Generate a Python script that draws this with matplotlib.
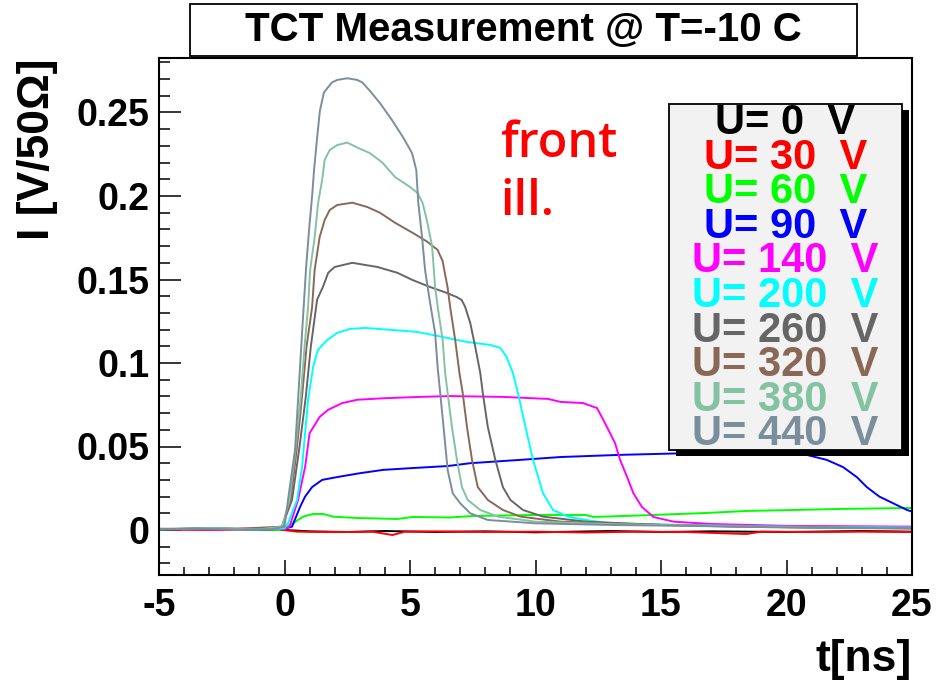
import matplotlib
matplotlib.use("Agg")
import matplotlib.pyplot as plt
from matplotlib.ticker import MultipleLocator, FixedLocator, FixedFormatter
from matplotlib.patches import Rectangle

plt.rcParams['font.family'] = ['Liberation Sans', 'DejaVu Sans']
plt.rcParams['axes.unicode_minus'] = False

# ---------------- data ----------------
labels = ["U= 0  V", "U= 30  V", "U= 60  V", "U= 90  V", "U= 140  V",
          "U= 200  V", "U= 260  V", "U= 320  V", "U= 380  V", "U= 440  V"]
colors = ["#000000", "#ff0000", "#00ff00", "#0000ff", "#ff00ff",
          "#00ffff", "#666666", "#8a6858", "#84c2a4", "#7a8e9b"]

t_0 = [-5, -2.5, 0.0, 1, 2.5, 4, 6, 8, 10, 13, 15, 17, 20, 23, 25]
i_0 = [0.0003, 0.0008, 0.0, -0.0008, -0.0012, -0.0006, -0.0012, -0.0008,
       -0.0014, -0.0006, -0.0012, -0.0008, -0.0012, -0.0006, -0.001]

t_30 = [-5, -3, -1, 0.0, 0.5, 1.5, 2.8, 3.5, 4.3, 4.8, 6, 8, 10, 12, 14,
        16, 18.4, 19, 21, 23, 25]
i_30 = [0.0003, 0.0, 0.0004, 0.0, -0.001, -0.0012, -0.0012, -0.001, -0.003,
        -0.001, -0.0008, -0.0012, -0.001, -0.0015, -0.001,
        -0.0012, -0.0024, -0.001, -0.0012, -0.001, -0.0012]

t_60 = [-5, -3, -1, -0.18, 0.34, 0.74, 1.14, 1.54, 1.93, 2.9, 4.5, 5.1, 6.6,
        7.5, 10, 12, 12.3, 14.7, 16.8, 18.4, 20.3, 22.1, 25]
i_60 = [0.0004, 0.0008, 0.0003, 0.0, 0.004, 0.008, 0.0096, 0.0096, 0.008,
        0.0072, 0.0066, 0.0078, 0.0075, 0.0084, 0.009, 0.009, 0.0078, 0.009,
        0.0102, 0.0114, 0.012, 0.0126, 0.0132]

t_90 = [-5, -3, -1, 0.0, 0.3, 0.62, 0.82, 1.1, 1.5, 2.1, 3.0, 3.93, 5.0, 6.5,
        7.4, 9.4, 11.0, 13.4, 16.3, 19.6, 20.8, 21.6, 22.25, 22.8, 23.2, 23.7,
        24.25, 24.8, 25]
i_90 = [0.0004, 0.001, 0.0003, 0.0008, 0.002, 0.0138, 0.02, 0.0257, 0.03,
        0.0317, 0.034, 0.036, 0.037, 0.0383, 0.04, 0.042, 0.0437, 0.045,
        0.0461, 0.0461, 0.045, 0.042, 0.0377, 0.0317, 0.0257, 0.02, 0.016,
        0.012, 0.011]

t_140 = [-5, -3, -1, 0.0, 0.2, 0.54, 0.82, 1.0, 1.4, 1.74, 2.3, 2.9, 4.1, 5.4,
         6.6, 8.7, 10.5, 11.0, 11.9, 12.45, 12.7, 12.97, 13.17, 13.37, 13.65,
         13.9, 14.24, 14.7, 15.5, 17, 20, 25]
i_140 = [0.0006, 0.0002, 0.001, 0.0005, 0.002, 0.018, 0.0377, 0.058, 0.0677,
         0.072, 0.076, 0.078, 0.079, 0.0797, 0.0802, 0.0797, 0.0785, 0.0767,
         0.076, 0.073, 0.066, 0.058, 0.052, 0.042, 0.0317, 0.022, 0.0138,
         0.0078, 0.005, 0.0036, 0.0025, 0.002]

t_200 = [-5, -3, -1, 0.0, 0.14, 0.5, 0.7, 0.82, 0.94, 1.14, 1.33, 1.7, 2.1,
         2.6, 3.2, 4.1, 5.3, 6.3, 7.27, 8.2, 8.6, 8.85, 9.1, 9.3, 9.6, 9.9,
         10.3, 10.7, 11.3, 12, 13, 16, 20, 25]
i_200 = [0.0004, 0.001, 0.0003, 0.001, 0.004, 0.018, 0.0377, 0.058, 0.078,
         0.0976, 0.1078, 0.1138, 0.118, 0.1204, 0.121, 0.12, 0.1186, 0.1156,
         0.1126, 0.1108, 0.109, 0.1036, 0.094, 0.082, 0.0617, 0.042, 0.022,
         0.012, 0.008, 0.006, 0.004, 0.003, 0.002, 0.0015]

t_260 = [-5, -3, -1, -0.1, 0.3, 0.6, 0.85, 1.05, 1.3, 1.53, 1.74, 2.0, 2.7,
         3.7, 4.5, 5.1, 5.8, 6.46, 6.86, 7.06, 7.2, 7.4, 7.6, 7.8, 7.9, 8.1,
         8.4, 8.7, 9.0, 9.5, 10.3, 12, 15, 19, 22, 25]
i_260 = [0.0003, 0.0008, 0.0005, 0.002, 0.018, 0.05, 0.08, 0.11, 0.138,
         0.1455, 0.154, 0.1575, 0.16, 0.1575, 0.154, 0.1497, 0.1455, 0.142,
         0.1395, 0.1377, 0.1335, 0.124, 0.1096, 0.094, 0.082, 0.0617, 0.042,
         0.0257, 0.018, 0.012, 0.008, 0.005, 0.003, 0.002, 0.0012, 0.001]

t_320 = [-5, -3, -1.5, -0.1, 0.25, 0.5, 0.7, 0.88, 1.1, 1.2, 1.4, 1.6, 1.8,
         2.1, 2.7, 3.3, 3.8, 4.4, 5.1, 5.7, 6.1, 6.3, 6.5, 6.6, 6.8, 6.97,
         7.1, 7.27, 7.47, 7.7, 8.1, 8.7, 9.4, 11, 14, 18, 22, 25]
i_320 = [0.0008, 0.0004, 0.001, 0.002, 0.018, 0.05, 0.08, 0.11, 0.1335,
         0.1557, 0.1754, 0.1856, 0.1916, 0.1946, 0.196, 0.1934, 0.19, 0.184,
         0.178, 0.1725, 0.1677, 0.161, 0.145, 0.1335, 0.1138, 0.094, 0.082,
         0.0617, 0.042, 0.0257, 0.018, 0.012, 0.008, 0.005, 0.0035, 0.002,
         0.0015, 0.001]

t_380 = [-5, -3, -1, -0.1, 0.2, 0.45, 0.65, 0.8, 0.94, 1.02, 1.2, 1.34, 1.5,
         1.6, 1.8, 2.1, 2.5, 2.9, 3.4, 3.9, 4.4, 5.0, 5.3, 5.5, 5.67, 5.88,
         6.0, 6.12, 6.3, 6.4, 6.5, 6.67, 6.87, 7.07, 7.3, 7.8, 8.5, 10, 13,
         17, 21, 25]
i_380 = [0.0005, 0.0012, 0.0004, 0.002, 0.018, 0.05, 0.08, 0.11, 0.1335,
         0.1557, 0.175, 0.196, 0.2096, 0.2216, 0.2275, 0.2305, 0.232, 0.229,
         0.2257, 0.22, 0.2114, 0.2054, 0.2018, 0.196, 0.1856, 0.17, 0.1455,
         0.132, 0.1138, 0.094, 0.082, 0.0617, 0.042, 0.0257, 0.018, 0.012,
         0.008, 0.005, 0.0035, 0.0025, 0.0015, 0.001]

t_440 = [-5, -3.5, -2, -0.5, 0.0, 0.14, 0.42, 0.54, 0.7, 0.86, 0.98, 1.1,
         1.18, 1.3, 1.41, 1.57, 1.89, 2.1, 2.5, 2.9, 3.1, 3.4, 3.8, 4.28,
         4.73, 5.08, 5.25, 5.33, 5.48, 5.6, 5.8, 6.0, 6.1, 6.23, 6.36, 6.5,
         6.7, 7.0, 7.4, 8.1, 10, 13, 16, 20, 25]
i_440 = [0.0005, 0.001, 0.0003, 0.0005, 0.002, 0.018, 0.048, 0.078, 0.118,
         0.157, 0.18, 0.2, 0.216, 0.235, 0.251, 0.262, 0.268, 0.2695, 0.2705,
         0.2695, 0.268, 0.263, 0.2557, 0.2455, 0.235, 0.2257, 0.2156, 0.196,
         0.1754, 0.1557, 0.136, 0.118, 0.0976, 0.078, 0.058, 0.036, 0.022,
         0.016, 0.010, 0.006, 0.004, 0.003, 0.0025, 0.0015, 0.001]

series_t = [t_0, t_30, t_60, t_90, t_140, t_200, t_260, t_320, t_380, t_440]
series_i = [i_0, i_30, i_60, i_90, i_140, i_200, i_260, i_320, i_380, i_440]

x_ticks = [-5, 0, 5, 10, 15, 20, 25]
y_ticks = [0, 0.05, 0.1, 0.15, 0.2, 0.25]
y_tick_labels = ["0", "0.05", "0.1", "0.15", "0.2", "0.25"]

title = "TCT Measurement @ T=-10 C"
x_title = "t[ns]"
y_title = "I [V/50\u03a9]"

# ---------------- figure ----------------
W, H = 948, 690
fig = plt.figure(figsize=(W / 100, H / 100), dpi=100)
fig.patch.set_facecolor("white")

def fx(px):
    return px / W

def fy(py):
    return 1 - py / H

L, R, T, B = 159, 912, 58, 575
ax = fig.add_axes([fx(L), fy(B), (R - L) / W, (B - T) / H])

for tt, ii, c in zip(series_t, series_i, colors):
    ax.plot(tt, ii, color=c, lw=1.4, solid_joinstyle="miter")

ax.set_xlim(-5, 25)
ax.set_ylim(-(B - 530) / 1670, (530 - T) / 1670)

ax.xaxis.set_major_locator(FixedLocator(x_ticks))
ax.xaxis.set_minor_locator(MultipleLocator(1))
ax.yaxis.set_major_locator(FixedLocator(y_ticks))
ax.yaxis.set_major_formatter(FixedFormatter(y_tick_labels))
ax.yaxis.set_minor_locator(MultipleLocator(0.01))

for s in ax.spines.values():
    s.set_linewidth(1.5)
ax.tick_params(axis="both", which="both", direction="in", width=1.1,
               top=False, right=False)
ax.tick_params(axis="x", which="major", length=11, pad=9)
ax.tick_params(axis="x", which="minor", length=5.5)
ax.tick_params(axis="y", which="major", length=16, pad=7)
ax.tick_params(axis="y", which="minor", length=8)
for lab in ax.get_xticklabels() + ax.get_yticklabels():
    lab.set_fontsize(27)
    lab.set_fontweight("bold")

# title box
fig.patches.append(Rectangle((fx(190), fy(56)), (857 - 190) / W, (56 - 4) / H,
                             transform=fig.transFigure, facecolor="white",
                             edgecolor="black", lw=1.3, zorder=5))
fig.text(fx(523), fy(30), title, ha="center", va="center", fontsize=29,
         fontweight="bold", zorder=6)

# axis titles
fig.text(fx(38), fy(58), y_title, rotation=90, ha="center", va="top",
         fontsize=32, fontweight="bold")
fig.text(fx(912), fy(660), x_title, ha="right", va="center", fontsize=32,
         fontweight="bold")

# annotation
fig.text(fx(500), fy(157), "front", color="#ff0000", fontsize=35,
         family=["Open Sans", "DejaVu Sans"], fontweight="semibold",
         ha="left", va="baseline")
fig.text(fx(500), fy(215), "ill.", color="#ff0000", fontsize=35,
         family=["Open Sans", "DejaVu Sans"], fontweight="semibold",
         ha="left", va="baseline")

# legend box with shadow
lx0, lx1, ly0, ly1 = 669, 902, 104, 450
fig.patches.append(Rectangle((fx(lx0 + 7), fy(ly1 + 6)), (lx1 - lx0) / W,
                             (ly1 - ly0) / H, transform=fig.transFigure,
                             facecolor="black", edgecolor="black", lw=0,
                             zorder=7))
fig.patches.append(Rectangle((fx(lx0), fy(ly1)), (lx1 - lx0) / W,
                             (ly1 - ly0) / H, transform=fig.transFigure,
                             facecolor="#f2f2f2", edgecolor="black", lw=1.3,
                             zorder=8))
cx = (lx0 + lx1) / 2
row0, drow = 123, 34.6
for k, (lab, c) in enumerate(zip(labels, colors)):
    fig.text(fx(cx), fy(row0 + k * drow), lab, color=c, ha="center",
             va="center", fontsize=30, fontweight="bold", zorder=9)

fig.savefig("out.png", dpi=100)
